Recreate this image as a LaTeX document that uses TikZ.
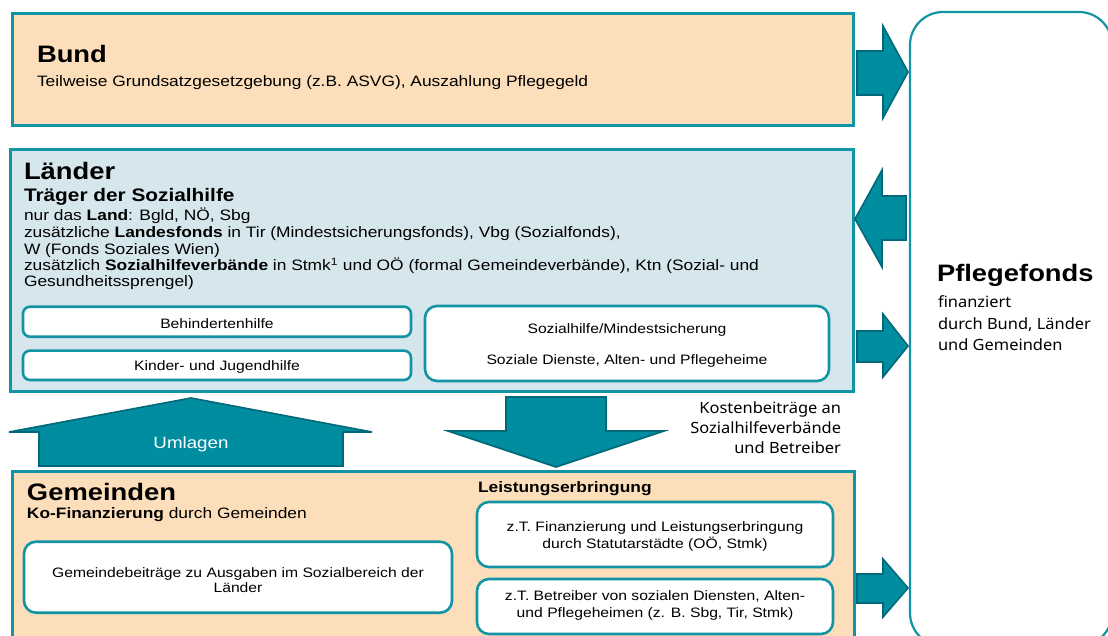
\documentclass[tikz,border=0pt]{standalone}
\usepackage{fontspec}
\setmainfont{Liberation Sans}[FakeStretch=1.15]
\newfontfamily\notofont{Noto Sans}[FakeStretch=1.06]
\definecolor{peach}{RGB}{252,223,186}
\definecolor{lblue}{RGB}{214,230,237}
\definecolor{tealb}{RGB}{18,148,164}
\definecolor{arrfill}{RGB}{0,141,160}
\definecolor{arrdraw}{RGB}{0,104,120}
\newcommand\szTitle{\fontsize{23.8}{26}\selectfont\bfseries}
\newcommand\szSub{\fontsize{18.1}{20}\selectfont\bfseries}
\newcommand\szBody{\fontsize{15.1}{17}\selectfont}
\newcommand\szBox{\fontsize{13.65}{15}\selectfont}
\newcommand\szNoto{\notofont\fontsize{15.5}{18}\selectfont}
\tikzset{
 panel/.style={draw=tealb, line width=3pt, inner sep=0pt, outer sep=0pt},
 wbox/.style={draw=tealb, line width=2.6pt, fill=white, inner sep=0pt, outer sep=0pt, rounded corners=7pt},
 blockarrow/.style={fill=arrfill, draw=arrdraw, line width=1.6pt, line join=miter},
 lbl/.style={inner sep=0pt, outer sep=0pt, anchor=base west},
 clbl/.style={inner sep=0pt, outer sep=0pt, anchor=base},
 rlbl/.style={inner sep=0pt, outer sep=0pt, anchor=base east},
}
\begin{document}
\begin{tikzpicture}[x=1pt,y=-1pt]
\useasboundingbox (0,0) rectangle (1108,636);
\clip (0,0) rectangle (1108,636);
% panels
\node[panel, fill=peach, minimum width=841pt, minimum height=112pt] (bund) at (432.5,70) {};
\node[panel, fill=lblue, minimum width=843pt, minimum height=241pt] (laender) at (431.5,270.5) {};
\node[panel, fill=peach, minimum width=842pt, minimum height=189pt] (gem) at (433,565.5) {};
% Pflegefonds
\node[draw=tealb, line width=2.2pt, fill=white, rounded corners=33pt, minimum width=202pt, minimum height=634pt, inner sep=0pt] (fonds) at (1011,329) {};
% inner boxes Laender
\node[wbox, minimum width=388pt, minimum height=30pt] (behind) at (217,321.7) {};
\node[wbox, minimum width=388pt, minimum height=29.3pt] (kinder) at (217,365.3) {};
\node[wbox, rounded corners=12pt, minimum width=404pt, minimum height=75pt] (sozial) at (627,343.5) {};
% inner boxes Gemeinden
\node[wbox, rounded corners=12pt, minimum width=428pt, minimum height=71pt] (gbeitr) at (238,577.2) {};
\node[wbox, rounded corners=12pt, minimum width=356pt, minimum height=65pt] (statut) at (655,534.5) {};
\node[wbox, rounded corners=12pt, minimum width=356pt, minimum height=55pt] (betreib) at (655,606.5) {};
% block arrows
\draw[blockarrow] (857,51) -- (883,51) -- (883,26) -- (908,72) -- (883,118) -- (883,95) -- (857,95) -- cycle;
\draw[blockarrow] (906,196) -- (882,196) -- (882,170) -- (855,219) -- (882,267) -- (882,240) -- (906,240) -- cycle;
\draw[blockarrow] (857,331) -- (883,331) -- (883,314) -- (908,346) -- (883,377) -- (883,362) -- (857,362) -- cycle;
\draw[blockarrow] (857,574) -- (883,574) -- (883,559) -- (908,588) -- (883,617) -- (883,603) -- (857,603) -- cycle;
\draw[blockarrow] (191,398) -- (372,432) -- (343,432) -- (343,466) -- (39,466) -- (39,432) -- (9,432) -- cycle;
\draw[blockarrow] (506,397) -- (606,397) -- (606,431) -- (664,431) -- (556,467) -- (448,431) -- (506,431) -- cycle;
% Bund texts
\node[lbl] (bundT) at (37,63) {\szTitle Bund};
\node[lbl] (bundS) at (37,87) {\szBody Teilweise Grundsatzgesetzgebung (z.B. ASVG), Auszahlung Pflegegeld};
% Laender texts
\node[lbl] (lT) at (24,180) {\szTitle Länder};
\node[lbl] (lS) at (24,201.5) {\szSub Träger der Sozialhilfe};
\node[lbl] (l1) at (24,221) {\szBody nur das \textbf{Land}: Bgld, NÖ, Sbg};
\node[lbl] (l2) at (24,238) {\szBody zusätzliche \textbf{Landesfonds} in Tir (Mindestsicherungsfonds), Vbg (Sozialfonds),};
\node[lbl] (l3) at (24,254.5) {\szBody W (Fonds Soziales Wien)};
\node[lbl] (l4) at (24,270.5) {\szBody zusätzlich \textbf{Sozialhilfeverbände} in Stmk\textsuperscript{1} und OÖ (formal Gemeindeverbände), Ktn (Sozial- und};
\node[lbl] (l5) at (24,286.5) {\szBody Gesundheitssprengel)};
\node[clbl] (behindT) at (217,328) {\szBox Behindertenhilfe};
\node[clbl] (kinderT) at (217,370.5) {\szBox Kinder- und Jugendhilfe};
\node[clbl] (sozialT1) at (627,333) {\szBox Sozialhilfe/Mindestsicherung};
\node[clbl] (sozialT2) at (627,364) {\szBox Soziale Dienste, Alten- und Pflegeheime};
% middle labels
\node[clbl, text=white] (umlT) at (191,448) {\fontsize{16.3}{18}\selectfont Umlagen};
\node[rlbl] (k1) at (841,413) {\szNoto Kostenbeiträge an};
\node[rlbl] (k2) at (841,433) {\szNoto Sozialhilfeverbände};
\node[rlbl] (k3) at (841,453) {\szNoto und Betreiber};
% Gemeinden texts
\node[lbl] (gT) at (27,500) {\szTitle Gemeinden};
\node[lbl] (gS) at (27,518) {\szBody \textbf{Ko-Finanzierung} durch Gemeinden};
\node[clbl] (gb1) at (238,577) {\szBox Gemeindebeiträge zu Ausgaben im Sozialbereich der};
\node[clbl] (gb2) at (238,592) {\szBox Länder};
\node[lbl] (leist) at (478,492) {\szBody\bfseries Leistungserbringung};
\node[clbl] (st1) at (655,531) {\szBox z.T. Finanzierung und Leistungserbringung};
\node[clbl] (st2) at (655,548) {\szBox durch Statutarstädte (OÖ, Stmk)};
\node[clbl] (be1) at (655,600) {\szBox z.T. Betreiber von sozialen Diensten, Alten-};
\node[clbl] (be2) at (655,617) {\szBox und Pflegeheimen (z. B. Sbg, Tir, Stmk)};
% Pflegefonds texts
\node[lbl] (fT) at (937,282) {\szTitle Pflegefonds};
\node[lbl] (f1) at (938,308) {\szNoto finanziert};
\node[lbl] (f2) at (938,329) {\szNoto durch Bund, Länder};
\node[lbl] (f3) at (938,350) {\szNoto und Gemeinden};
\end{tikzpicture}
\end{document}
